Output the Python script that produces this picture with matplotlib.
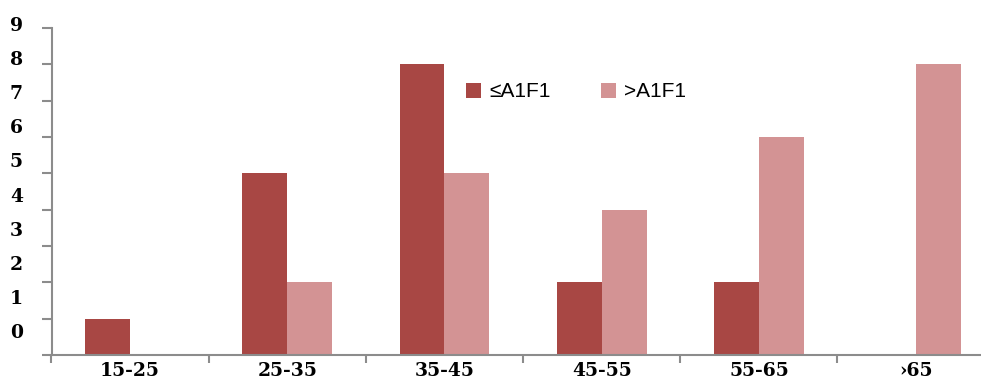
import matplotlib
matplotlib.use("Agg")
import matplotlib.pyplot as plt
import numpy as np

categories = ["15-25", "25-35", "35-45", "45-55", "55-65", "\u203a65"]
low_a1f1 = [1, 5, 8, 2, 2, 0]
high_a1f1 = [0, 2, 5, 4, 6, 8]
series_names = ["\u2264A1F1", ">A1F1"]
ytick_labels = [str(i) for i in range(10)]

dark = "#a84744"
light = "#d39394"
axis_gray = "#8c8c8c"

fig = plt.figure(figsize=(9.81, 3.78), dpi=100)
ax = fig.add_axes([51.5 / 981, 1 - 355 / 378, (981 - 51.5) / 981, 327 / 378])

x = np.arange(len(categories))
w = 0.286
ax.bar(x - w / 2, low_a1f1, width=w, color=dark, label=series_names[0])
ax.bar(x + w / 2, high_a1f1, width=w, color=light, label=series_names[1])

for s in ["top", "right"]:
    ax.spines[s].set_visible(False)
for s in ["left", "bottom"]:
    ax.spines[s].set_color(axis_gray)
    ax.spines[s].set_linewidth(1.5)

serif = dict(family="DejaVu Serif", weight="bold", size=13.5)

# y axis: tick marks on integers; the numbers sit on their own, slightly lower grid
ax.set_yticks(range(10))
ax.set_yticklabels([])
ax.tick_params(axis="y", which="major", length=7, width=1.5, color=axis_gray, direction="out")
ytrans = ax.get_yaxis_transform()
for i, lab in enumerate(ytick_labels):
    ax.text(-0.0307, 0.606 + 0.939 * i, lab, transform=ytrans, ha="right", va="center",
            clip_on=False, **serif)

# x axis: tick marks between groups, labels at group centres
ax.set_xticks(np.arange(-0.5, 5.6, 1.0))
ax.set_xticklabels([])
ax.tick_params(axis="x", which="major", length=6, width=1.5, color=axis_gray, direction="out")
ax.set_xticks(x, minor=True)
ax.set_xticklabels(categories, minor=True, fontdict=serif)
ax.tick_params(axis="x", which="minor", length=0, pad=5)

ax.set_xlim(-0.5, 5.413)
ax.set_ylim(0, 9)

leg = ax.legend(loc="upper left", bbox_to_anchor=(0.426, 0.891), ncol=2, frameon=False,
                prop=dict(family="Liberation Sans", size=15), handlelength=0.72,
                handleheight=0.72, handletextpad=0.4, columnspacing=2.4)

fig.savefig("out.png", dpi=100)
